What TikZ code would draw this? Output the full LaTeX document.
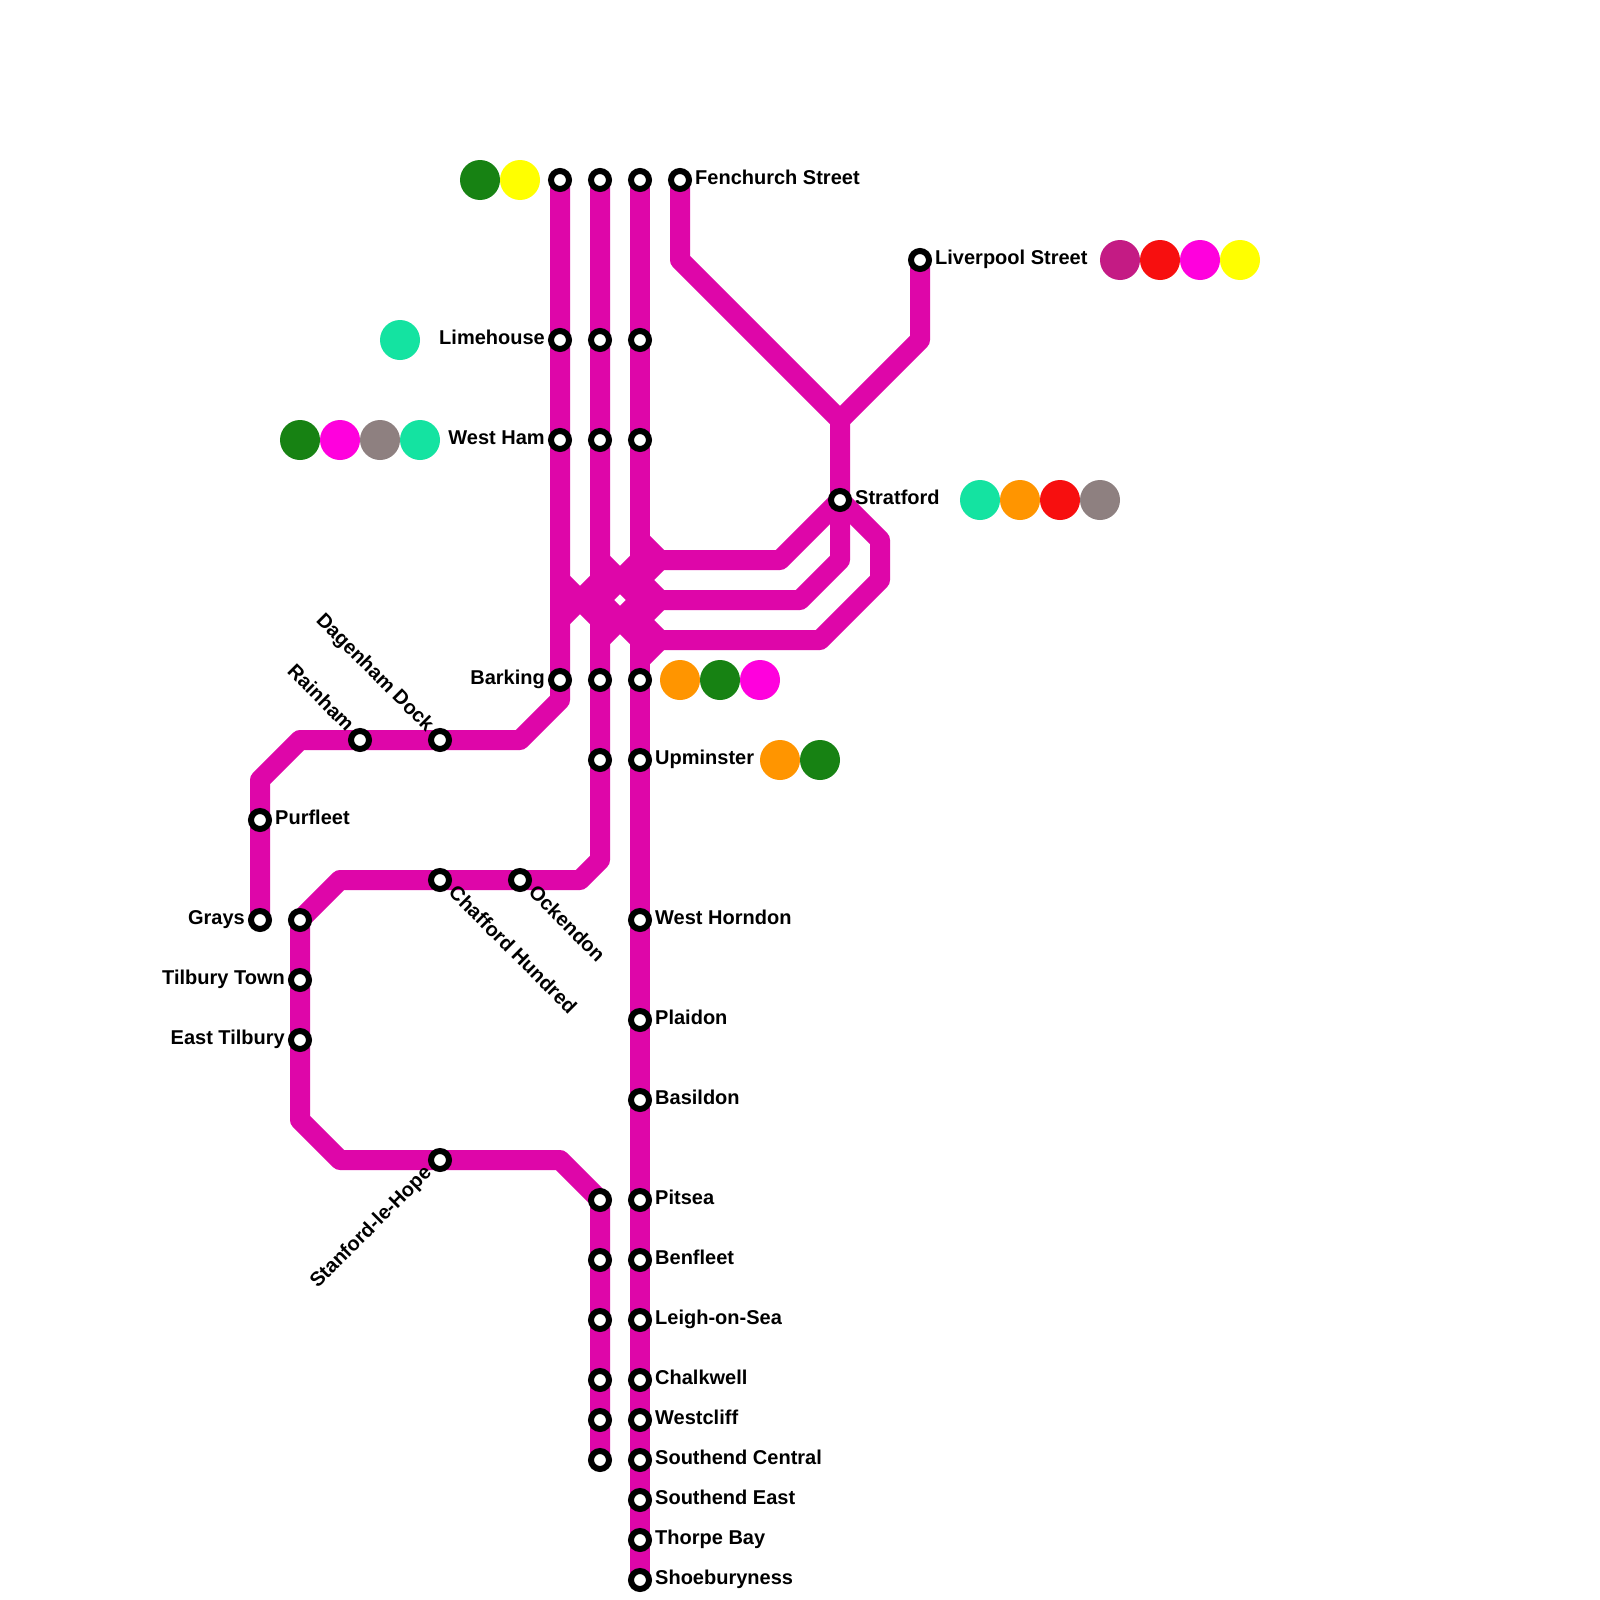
\documentclass[tikz,border=0pt]{standalone}
\usepackage{fontspec}
\setmainfont{Liberation Sans}
\usetikzlibrary{backgrounds}
\definecolor{linec}{HTML}{DE06A9}
\definecolor{cteal}{HTML}{14E3A1}
\definecolor{corange}{HTML}{FF9500}
\definecolor{cgreen}{HTML}{178213}
\definecolor{cpink}{HTML}{FF00DD}
\definecolor{cgrey}{HTML}{8E8080}
\definecolor{cred}{HTML}{F70F0F}
\definecolor{cyellow}{HTML}{FFFF00}
\definecolor{cpurple}{HTML}{C41B84}
\tikzset{
  stn/.style={circle,draw=black,fill=white,line width=6pt,minimum size=18pt,inner sep=0pt},
  route/.style={draw=linec,line width=20pt,line join=round,line cap=butt},
  dot/.style={circle,minimum size=40pt,inner sep=0pt,fill=#1},
  lbl/.style={inner sep=0pt,font=\fontsize{20pt}{24pt}\selectfont\bfseries,text=black},
  lblr/.style={lbl,anchor=base west},
  lbll/.style={lbl,anchor=base east},
}
\newcommand{\stn}[3]{\node[stn] (#1) at (#2,#3) {};}
\newcommand{\idot}[4]{\node[dot=#4] (#1) at (#2,#3) {};}
\begin{document}
\begin{tikzpicture}[x=1pt,y=-1pt]
\useasboundingbox (0,0) rectangle (1600,1600);
% column 560
\stn{aa}{560}{180}\stn{limehouse}{560}{340}\stn{westham}{560}{440}\stn{barking}{560}{680}
% column 600
\stn{ba}{600}{180}\stn{bb}{600}{340}\stn{bc}{600}{440}\stn{bd}{600}{680}\stn{be}{600}{760}
\stn{bf}{600}{1200}\stn{bg}{600}{1260}\stn{bh}{600}{1320}\stn{bi}{600}{1380}\stn{bj}{600}{1420}\stn{bk}{600}{1460}
% column 640
\stn{ca}{640}{180}\stn{cb}{640}{340}\stn{cc}{640}{440}\stn{cd}{640}{680}\stn{upminster}{640}{760}
\stn{westhorndon}{640}{920}\stn{plaidon}{640}{1020}\stn{basildon}{640}{1100}\stn{pitsea}{640}{1200}
\stn{benfleet}{640}{1260}\stn{leigh}{640}{1320}\stn{chalkwell}{640}{1380}\stn{westcliff}{640}{1420}
\stn{central}{640}{1460}\stn{east}{640}{1500}\stn{thorpe}{640}{1540}\stn{shoe}{640}{1580}
% others
\stn{fenchurch}{680}{180}\stn{liverpool}{920}{260}\stn{stratford}{840}{500}
\stn{rainham}{360}{740}\stn{dagenham}{440}{740}\stn{purfleet}{260}{820}\stn{grays}{260}{920}
\stn{chafford}{440}{880}\stn{ockendon}{520}{880}\stn{da}{300}{920}\stn{tilburyt}{300}{980}\stn{easttil}{300}{1040}
\stn{stanford}{440}{1160}
% interchange dots
\idot{d1}{480}{180}{cgreen}\idot{d2}{520}{180}{cyellow}
\idot{d3}{400}{340}{cteal}
\idot{d4}{300}{440}{cgreen}\idot{d5}{340}{440}{cpink}\idot{d6}{380}{440}{cgrey}\idot{d7}{420}{440}{cteal}
\idot{d8}{980}{500}{cteal}\idot{d9}{1020}{500}{corange}\idot{d10}{1060}{500}{cred}\idot{d11}{1100}{500}{cgrey}
\idot{d12}{680}{680}{corange}\idot{d13}{720}{680}{cgreen}\idot{d14}{760}{680}{cpink}
\idot{d15}{780}{760}{corange}\idot{d16}{820}{760}{cgreen}
\idot{d17}{1120}{260}{cpurple}\idot{d18}{1160}{260}{cred}\idot{d19}{1200}{260}{cpink}\idot{d20}{1240}{260}{cyellow}
% bends
\coordinate (k1) at (680,260);\coordinate (k2) at (840,420);\coordinate (k3) at (920,340);
\coordinate (h1l) at (660,560);\coordinate (h1r) at (780,560);
\coordinate (h2l) at (660,600);\coordinate (h2r) at (800,600);\coordinate (h2u) at (840,560);
\coordinate (h3l) at (660,640);\coordinate (h3r) at (820,640);\coordinate (h3a) at (880,580);\coordinate (h3b) at (880,540);
\coordinate (t1) at (640,540);\coordinate (t2) at (640,580);\coordinate (t3) at (640,620);\coordinate (t4) at (640,660);
\coordinate (u1) at (600,560);\coordinate (u2) at (640,560);\coordinate (u3) at (600,600);\coordinate (u4) at (640,600);
\coordinate (u5) at (640,640);\coordinate (u6) at (600,640);
\coordinate (v1) at (560,580);\coordinate (v2) at (600,620);\coordinate (v3) at (560,620);\coordinate (v4) at (600,580);
\coordinate (w1) at (560,700);\coordinate (w2) at (520,740);\coordinate (w3) at (300,740);\coordinate (w4) at (260,780);
\coordinate (y1) at (600,860);\coordinate (y2) at (580,880);\coordinate (y3) at (340,880);
\coordinate (y4) at (300,1120);\coordinate (y5) at (340,1160);\coordinate (y6) at (560,1160);
\begin{pgfonlayer}{background}
\fill[white] (0,0) rectangle (1600,1600);
% routes
\draw[route] (aa.center) -- (limehouse.center) -- (westham.center) -- (barking.center) -- (w1) -- (w2) -- (dagenham.center) -- (rainham.center) -- (w3) -- (w4) -- (purfleet.center) -- (grays.center);
\draw[route] (ba.center) -- (bb.center) -- (bc.center) -- (bd.center) -- (be.center) -- (y1) -- (y2) -- (ockendon.center) -- (chafford.center) -- (y3) -- (da.center) -- (tilburyt.center) -- (easttil.center) -- (y4) -- (y5) -- (stanford.center) -- (y6) -- (bf.center) -- (bg.center) -- (bh.center) -- (bi.center) -- (bj.center) -- (bk.center);
\draw[route] (ca.center) -- (cb.center) -- (cc.center) -- (cd.center) -- (upminster.center) -- (westhorndon.center) -- (plaidon.center) -- (basildon.center) -- (pitsea.center) -- (benfleet.center) -- (leigh.center) -- (chalkwell.center) -- (westcliff.center) -- (central.center) -- (east.center) -- (thorpe.center) -- (shoe.center);
\draw[route] (fenchurch.center) -- (k1) -- (k2) -- (stratford.center);
\draw[route] (liverpool.center) -- (k3) -- (k2);
% interchange tangle
\draw[route] (t1) -- (h1l) -- (h1r) -- (stratford.center);
\draw[route] (t2) -- (h1l);
\draw[route] (t2) -- (h2l) -- (h2r) -- (h2u) -- (stratford.center);
\draw[route] (t3) -- (h2l);
\draw[route] (t3) -- (h3l) -- (h3r) -- (h3a) -- (h3b) -- (stratford.center);
\draw[route] (t4) -- (h3l);
\draw[route] (u1) -- (u4);
\draw[route] (u2) -- (u3);
\draw[route] (u3) -- (u5);
\draw[route] (u4) -- (u6);
\draw[route] (v1) -- (v2);
\draw[route] (v3) -- (v4);
\end{pgfonlayer}
% labels
\node[lblr] (lfen) at (695,184.5) {Fenchurch Street};
\node[lblr] (lliv) at (935,264.5) {Liverpool Street};
\node[lblr] (lstr) at (855,504.5) {Stratford};
\node[lblr] (lupm) at (655,764.5) {Upminster};
\node[lblr] (lwho) at (655,924.5) {West Horndon};
\node[lblr] (lpla) at (655,1024.5) {Plaidon};
\node[lblr] (lbas) at (655,1104.5) {Basildon};
\node[lblr] (lpit) at (655,1204.5) {Pitsea};
\node[lblr] (lben) at (655,1264.5) {Benfleet};
\node[lblr] (llei) at (655,1324.5) {Leigh-on-Sea};
\node[lblr] (lcha) at (655,1384.5) {Chalkwell};
\node[lblr] (lwcl) at (655,1424.5) {Westcliff};
\node[lblr] (lcen) at (655,1464.5) {Southend Central};
\node[lblr] (least) at (655,1504.5) {Southend East};
\node[lblr] (ltho) at (655,1544.5) {Thorpe Bay};
\node[lblr] (lsho) at (655,1584.5) {Shoeburyness};
\node[lblr] (lpur) at (275,824.5) {Purfleet};
\node[lbll] (llim) at (545,344.5) {Limehouse};
\node[lbll] (lwha) at (545,444.5) {West Ham};
\node[lbll] (lbar) at (545,684.5) {Barking};
\node[lbll] (lgra) at (245,924.5) {Grays};
\node[lbll] (ltil) at (285,984.5) {Tilbury Town};
\node[lbll] (leti) at (285,1044.5) {East Tilbury};
\node[lbl,rotate=-45,anchor=base east] (lrai) at (346.2,732.6) {Rainham};
\node[lbl,rotate=-45,anchor=base east] (ldag) at (426.2,732.6) {Dagenham Dock};
\node[lbl,rotate=-45,anchor=base west] (lchf) at (447.4,893.8) {Chafford Hundred};
\node[lbl,rotate=-45,anchor=base west] (lock) at (527.4,893.8) {Ockendon};
\node[lbl,rotate=45,anchor=base east] (lsta) at (432.6,1173.8) {Stanford-le-Hope};
\end{tikzpicture}
\end{document}
